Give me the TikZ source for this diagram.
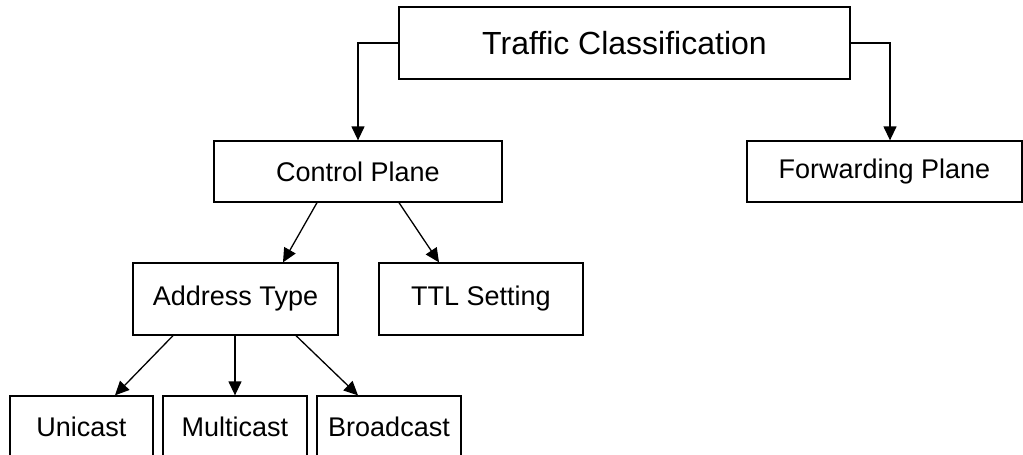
\documentclass[tikz,border=0pt]{standalone}
\usepackage{fontspec}
\setmainfont{Liberation Sans}
\usetikzlibrary{arrows.meta}
\begin{document}
\begin{tikzpicture}[x=1pt,y=-1pt,
  box/.style={draw, rectangle, line width=1.3pt, inner sep=0pt, font=\fontsize{27}{32}\selectfont},
  conn/.style={line width=1.3pt, -{Triangle[length=14pt,width=13pt]}}]
\useasboundingbox (0,0) rectangle (1023,455);
\clip (0,0) rectangle (1023,455);
\node[box, minimum width=451pt, minimum height=72pt, font=\fontsize{32}{38}\selectfont] (top) at (624.5,43) {Traffic Classification};
\node[box, minimum width=288pt, minimum height=61pt] (cp) at (358,171.5) {Control Plane};
\node[box, minimum width=275pt, minimum height=61pt] (fp) at (884.5,171.5) {Forwarding Plane};
\node[box, minimum width=205pt, minimum height=72pt] (at) at (235.5,299) {Address Type};
\node[box, minimum width=204pt, minimum height=72pt] (ttl) at (481,299) {TTL Setting};
\node[box, minimum width=143pt, minimum height=62pt] (uni) at (81.5,427) {Unicast};
\node[box, minimum width=144pt, minimum height=62pt] (mul) at (235,427) {Multicast};
\node[box, minimum width=144pt, minimum height=62pt] (bro) at (389,427) {Broadcast};
\draw[conn] (top.west) -| (cp.north);
\draw[conn] (top.east) -| ([xshift=5.5pt]fp.north);
\draw[conn] ([xshift=-41pt]cp.south) -- ([xshift=47.5pt]at.north);
\draw[conn] ([xshift=41pt]cp.south) -- ([xshift=-42pt]ttl.north);
\draw[conn] ([xshift=-62.5pt]at.south) -- ([xshift=33.5pt]uni.north);
\draw[conn] ([xshift=-0.5pt]at.south) -- (mul.north);
\draw[conn] ([xshift=60.5pt]at.south) -- ([xshift=-31pt]bro.north);
\end{tikzpicture}
\end{document}
